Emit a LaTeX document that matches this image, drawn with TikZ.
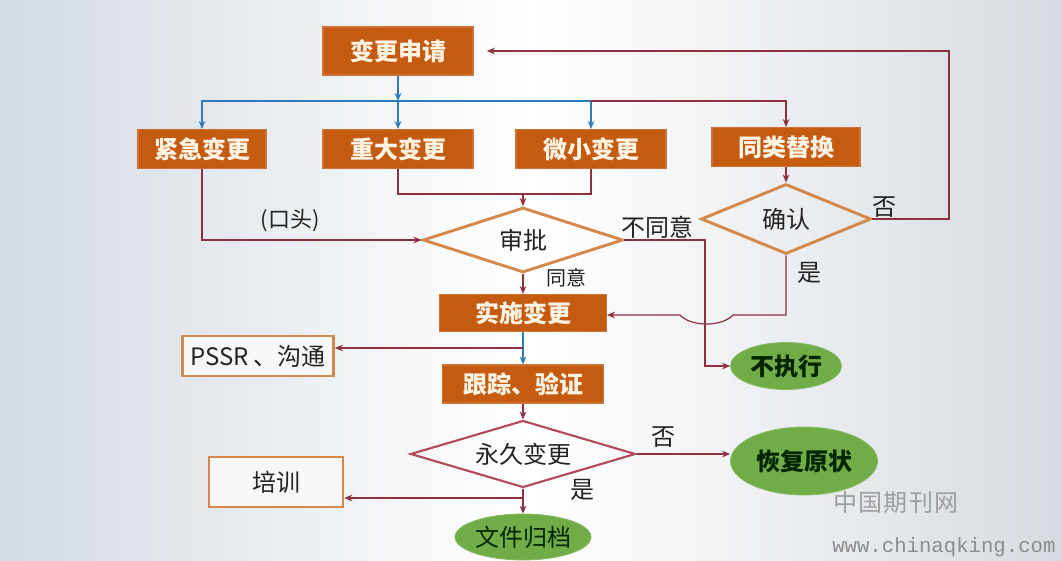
\documentclass[tikz,border=0pt]{standalone}
\usepackage{fontspec}
\setmainfont{Noto Sans CJK SC}
\newfontfamily\monofam{Liberation Mono}
\usetikzlibrary{shapes.geometric,arrows.meta}
\definecolor{boxor}{HTML}{C55A11}
\definecolor{boxtx}{HTML}{FFF4E4}
\definecolor{dmor}{HTML}{D4894A}
\definecolor{dmred}{HTML}{B24A5C}
\definecolor{lnred}{HTML}{8E3040}
\definecolor{lnblue}{HTML}{2F7AB8}
\definecolor{grn}{HTML}{70AD47}
\definecolor{txdark}{HTML}{222222}
\definecolor{bgl}{HTML}{D3DAE2}
\definecolor{bgr}{HTML}{D6DBE1}
\begin{document}
\begin{tikzpicture}[x=0.75pt,y=-0.75pt,
  every node/.style={font=\fontsize{18}{20}\selectfont, text=txdark},
  obox/.style={rectangle, fill=boxor, draw=boxor!85!white, line width=0.8pt,
     text=boxtx, font=\fontsize{18}{20}\selectfont\bfseries, inner sep=0pt},
  wbox/.style={rectangle, fill=white!94!gray, draw=dmor, line width=2pt, inner sep=0pt},
  dmo/.style={diamond, draw=dmor, line width=2.2pt, inner sep=0pt, aspect=3},
  dmr/.style={diamond, draw=dmred, line width=1.6pt, inner sep=0pt, aspect=3},
  gell/.style={ellipse, fill=grn, draw=grn!85!white, line width=0.6pt, inner sep=0pt,
     font=\fontsize{18}{20}\selectfont\bfseries, text=black!85!green},
  rd/.style={draw=lnred, line width=0.9pt},
  bl/.style={draw=lnblue, line width=1.5pt},
  tip/.style={-{Stealth[length=6pt,width=5pt]}},
  lbl/.style={inner sep=0pt, text=txdark}
]
\shade[left color=bgl, right color=bgr, middle color=white] (0,0) rectangle (1062,560);
\useasboundingbox (0,0) rectangle (1062,560);

% nodes
\node[obox, minimum width=112.5pt, minimum height=36pt] (req) at (398,51) {变更申请};
\node[obox, minimum width=96pt, minimum height=29.25pt] (urg) at (202,149) {紧急变更};
\node[obox, minimum width=112.5pt, minimum height=29.25pt] (maj) at (398,149) {重大变更};
\node[obox, minimum width=112.5pt, minimum height=29.25pt] (min) at (591,149) {微小变更};
\node[obox, minimum width=111pt, minimum height=29.25pt] (sim) at (786,147) {同类替换};
\node[dmo, minimum width=150pt, minimum height=48.75pt] (appr) at (523,240) {审批};
\node[dmo, minimum width=127.5pt, minimum height=52.5pt] (conf) at (786,219) {确认};
\node[obox, minimum width=125.25pt, minimum height=27.75pt] (impl) at (523,313) {实施变更};
\node[wbox, minimum width=113.25pt, minimum height=30pt] (pssr) at (258,356) {PSSR 、沟通};
\node[obox, minimum width=120.75pt, minimum height=28.5pt] (track) at (523,384) {跟踪、验证};
\node[dmr, minimum width=168.75pt, minimum height=50.25pt] (perm) at (523,454) {永久变更};
\node[wbox, minimum width=100.5pt, minimum height=37.5pt] (train) at (276,482) {培训};
\node[gell, minimum width=102pt, minimum height=34.5pt, font=\fontsize{18}{20}\selectfont] (arch) at (523,537) {文件归档};
\node[gell, minimum width=110.25pt, minimum height=51pt] (rest) at (804,461) {恢复原状};
\node[gell, minimum width=83.25pt, minimum height=35.25pt] (noex) at (786,366) {不执行};

% top bus
\coordinate (b0) at (398,101);
\draw[bl,tip] (req) -- (b0);
\draw[bl,tip] (b0) -| (urg);
\draw[bl,tip] (b0) -- (maj);
\draw[bl,tip] (b0) -| (min);
\draw[rd,tip] (min |- b0) -| (sim);

% major/minor to approval
\coordinate (j) at (523,194);
\draw[rd] (maj) |- (j) -| (min);
\draw[rd,tip] (j) -- (appr);

% urgent to approval
\draw[rd,tip] (urg) |- (appr);
\node[lbl, font=\fontsize{16.5}{18}\selectfont] (oral) at (290,221) {(口头)};

% approval outputs
\draw[rd,tip] (appr) -- (impl);
\node[lbl, font=\fontsize{15}{17}\selectfont] (agree) at (566,278) {同意};
\coordinate (nx) at (705,366);
\draw[rd,tip] (appr.east) -| (nx) -- (noex);
\node[lbl] (disagree) at (657,227) {不同意};

% confirm
\draw[rd,tip] (sim) -- (conf);
\coordinate (lp) at (949,219);
\draw[rd,tip,shorten >=10pt] (conf.east) -- (lp) |- (req.east);
\node[lbl] (no1) at (884,207) {否};
\coordinate (cy) at (786,315);
\coordinate (h1) at (733,315);
\coordinate (h2) at (680,315);
\draw[rd,tip] (conf.south) -- (cy) -- (h1) .. controls (722,327) and (691,327) .. (h2) -- (h2 -| impl.east);
\node[lbl] (yes1) at (809,273) {是};

% lower chain
\draw[bl,tip] (impl) -- (track);
\coordinate (p) at (523,348);
\draw[rd,tip] (p) -- (p -| pssr.east);
\draw[rd,tip] (track) -- (perm);
\draw[rd,tip] (perm) -- (arch);
\node[lbl] (yes2) at (582,490) {是};
\coordinate (t) at (523,498);
\draw[rd,tip] (t) -- (t -| train.east);
\draw[rd,tip] (perm.east) -- (perm.east -| rest.west);
\node[lbl] (no2) at (663,437) {否};

% watermark
\node[lbl, text=black!38, font=\fontsize{18}{20}\selectfont\addfontfeatures{LetterSpace=6}] (wm1) at (896,502) {中国期刊网};
\node[lbl, anchor=west, text=black!45, font=\monofam\fontsize{15.5}{17}\selectfont] (wm2) at (832,547) {www.chinaqking.com};
\end{tikzpicture}
\end{document}
